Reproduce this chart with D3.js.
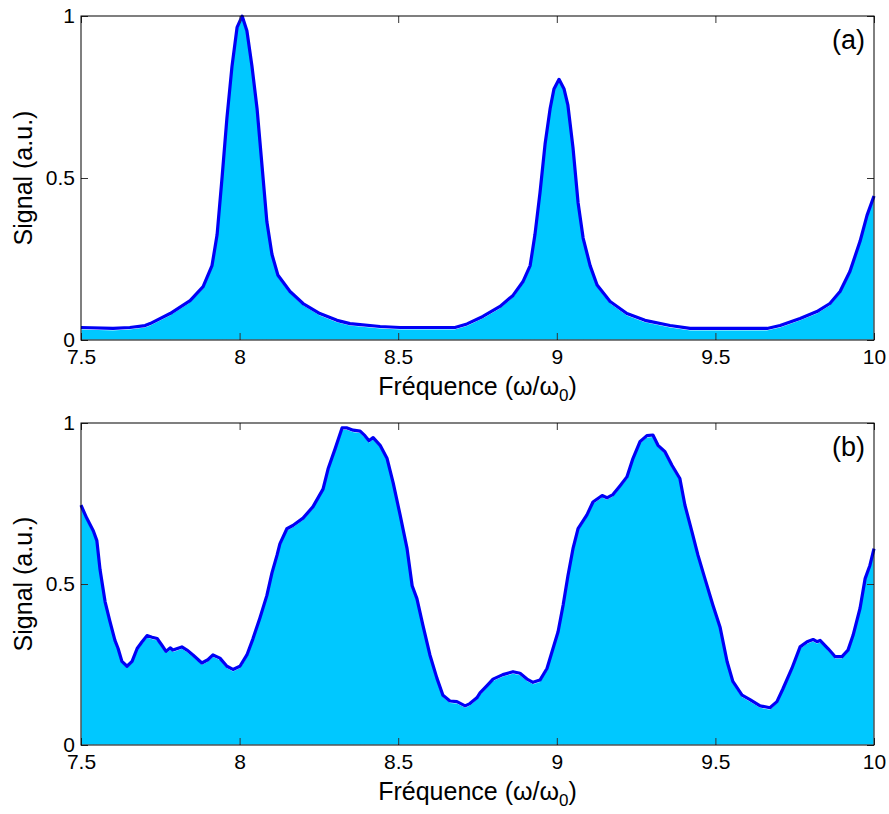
<!DOCTYPE html>
<html>
<head>
<meta charset="utf-8">
<script src="https://cdn.jsdelivr.net/npm/d3@7"></script>
<style>
  body { margin: 0; background: #fff; }
  text { font-family: "Liberation Sans", Arial, sans-serif; fill: #000; }
</style>
</head>
<body>
<svg width="889" height="814"></svg>
<script>
// panel (a) : sharp resonances
const freqA = [7.5, 7.601, 7.654, 7.702, 7.718, 7.781, 7.844, 7.885, 7.913, 7.929, 7.945, 7.96, 7.976, 7.992,
  8.008, 8.023, 8.039, 8.055, 8.071, 8.086, 8.102, 8.121, 8.159, 8.2, 8.253, 8.307, 8.348, 8.443, 8.506,
  8.679, 8.717, 8.767, 8.821, 8.862, 8.893, 8.916, 8.931, 8.947, 8.963, 8.979, 8.991, 9.007, 9.023, 9.035,
  9.051, 9.067, 9.083, 9.105, 9.127, 9.168, 9.221, 9.278, 9.357, 9.42, 9.663, 9.704, 9.767, 9.82, 9.861,
  9.893, 9.924, 9.956, 9.978, 10];
const signalA = [0.034, 0.031, 0.034, 0.04, 0.046, 0.077, 0.117, 0.16, 0.225, 0.32, 0.5, 0.68, 0.84, 0.96,
  0.995, 0.95, 0.84, 0.71, 0.53, 0.36, 0.26, 0.195, 0.145, 0.108, 0.077, 0.056, 0.046, 0.037, 0.034,
  0.034, 0.045, 0.068, 0.099, 0.133, 0.175, 0.225, 0.32, 0.45, 0.6, 0.71, 0.77, 0.8, 0.77, 0.72,
  0.59, 0.42, 0.31, 0.225, 0.165, 0.114, 0.077, 0.056, 0.04, 0.031, 0.031, 0.04, 0.062, 0.083, 0.108,
  0.145, 0.207, 0.3, 0.38, 0.44];

// panel (b) : broadened, noisy
const freqB = [7.5, 7.518, 7.539, 7.55, 7.56, 7.576, 7.591, 7.607, 7.617, 7.629, 7.645, 7.661, 7.677, 7.692,
  7.708, 7.724, 7.74, 7.755, 7.768, 7.781, 7.79, 7.818, 7.834, 7.853, 7.881, 7.9, 7.916, 7.938, 7.96,
  7.979, 8.001, 8.023, 8.042, 8.064, 8.086, 8.102, 8.118, 8.127, 8.149, 8.168, 8.2, 8.231, 8.263, 8.279,
  8.301, 8.323, 8.339, 8.358, 8.38, 8.395, 8.408, 8.421, 8.443, 8.465, 8.484, 8.506, 8.528, 8.544, 8.559,
  8.578, 8.6, 8.622, 8.641, 8.663, 8.685, 8.711, 8.726, 8.748, 8.758, 8.78, 8.799, 8.83, 8.862, 8.884,
  8.906, 8.925, 8.947, 8.969, 8.988, 9.004, 9.02, 9.035, 9.051, 9.067, 9.095, 9.114, 9.143, 9.158, 9.177,
  9.199, 9.221, 9.24, 9.262, 9.284, 9.303, 9.319, 9.341, 9.363, 9.388, 9.404, 9.426, 9.445, 9.467, 9.492,
  9.515, 9.537, 9.555, 9.584, 9.609, 9.641, 9.672, 9.694, 9.713, 9.741, 9.767, 9.789, 9.808, 9.82, 9.83,
  9.855, 9.877, 9.899, 9.918, 9.934, 9.956, 9.972, 9.987, 10];
const signalB = [0.74, 0.70, 0.66, 0.63, 0.54, 0.44, 0.38, 0.32, 0.295, 0.255, 0.24, 0.255, 0.295, 0.315,
  0.335, 0.33, 0.326, 0.305, 0.286, 0.297, 0.29, 0.30, 0.29, 0.275, 0.25, 0.26, 0.275, 0.265, 0.24,
  0.23, 0.24, 0.275, 0.325, 0.39, 0.46, 0.53, 0.585, 0.62, 0.667, 0.677, 0.70, 0.735, 0.79, 0.853,
  0.915, 0.98, 0.98, 0.973, 0.97, 0.956, 0.94, 0.95, 0.926, 0.885, 0.81, 0.71, 0.605, 0.49, 0.45,
  0.367, 0.275, 0.203, 0.15, 0.132, 0.13, 0.117, 0.124, 0.142, 0.157, 0.18, 0.20, 0.214, 0.223, 0.218,
  0.20, 0.19, 0.197, 0.233, 0.295, 0.347, 0.43, 0.52, 0.605, 0.667, 0.71, 0.75, 0.77, 0.763, 0.773,
  0.80, 0.828, 0.885, 0.937, 0.956, 0.958, 0.926, 0.906, 0.864, 0.823, 0.74, 0.658, 0.585, 0.512, 0.43,
  0.36, 0.254, 0.193, 0.15, 0.136, 0.117, 0.111, 0.13, 0.17, 0.233, 0.30, 0.316, 0.323, 0.316, 0.32,
  0.295, 0.27, 0.27, 0.29, 0.336, 0.42, 0.512, 0.553, 0.605];

const xTicks = [7.5, 8, 8.5, 9, 9.5, 10];
const yTicks = [0, 0.5, 1];

const svg = d3.select('svg');
const left = 81, right = 874;
const fmt = d3.format('~g');

const x = d3.scaleLinear().domain([7.5, 10]).range([left, right]);

function drawPanel(freq, sig, top, bottom, tag) {
    const y = d3.scaleLinear().domain([0, 1]).range([bottom, top]);
    const data = freq.map((f, i) => ({f: f, s: sig[i]}));
    const g = svg.append('g');

    g.append('path')
        .datum(data)
        .attr('fill', '#00c8ff')
        .attr('stroke', '#fff')
        .attr('stroke-width', 1)
        .attr('d', d3.area().x(d => x(d.f)).y0(bottom).y1(d => y(d.s)));

    g.append('path')
        .datum(data)
        .attr('fill', 'none')
        .attr('stroke', '#0000f5')
        .attr('stroke-width', 3.2)
        .attr('stroke-linejoin', 'round')
        .attr('transform', 'translate(0,-1.5)')
        .attr('d', d3.line().x(d => x(d.f)).y(d => y(d.s)));

    // ticks inward on all four sides, matlab style
    g.append('g').attr('transform', `translate(0,${bottom})`)
        .call(d3.axisBottom(x).tickValues(xTicks).tickSize(-7).tickSizeOuter(0).tickPadding(9).tickFormat(fmt));
    g.append('g').attr('transform', `translate(0,${top})`)
        .call(d3.axisTop(x).tickValues(xTicks).tickSize(-7).tickSizeOuter(0).tickFormat(''));
    g.append('g').attr('transform', `translate(${left},0)`)
        .call(d3.axisLeft(y).tickValues(yTicks).tickSize(-7).tickSizeOuter(0).tickPadding(6).tickFormat(fmt));
    g.append('g').attr('transform', `translate(${right},0)`)
        .call(d3.axisRight(y).tickValues(yTicks).tickSize(-7).tickSizeOuter(0).tickFormat(''));

    g.selectAll('.domain').remove();
    g.selectAll('.tick line').attr('stroke', '#333');
    g.selectAll('.tick text').style('font-size', '21px').style('font-family', '"Liberation Sans", Arial, sans-serif');

    g.append('rect')
        .attr('x', left).attr('y', top)
        .attr('width', right - left).attr('height', bottom - top)
        .attr('fill', 'none').attr('stroke', '#000').attr('stroke-width', 1);

    const xl = g.append('text')
        .attr('x', (left + right) / 2)
        .attr('y', bottom + 55)
        .attr('text-anchor', 'middle')
        .style('font-size', '25px');
    xl.append('tspan').text('Fréquence (ω/ω');
    xl.append('tspan').attr('dy', 6).style('font-size', '17px').text('0');
    xl.append('tspan').attr('dy', -6).text(')');

    g.append('text')
        .attr('transform', `translate(32,${(top + bottom) / 2}) rotate(-90)`)
        .attr('text-anchor', 'middle')
        .style('font-size', '25px')
        .text('Signal (a.u.)');

    g.append('text')
        .attr('x', 865)
        .attr('y', top + 33)
        .attr('text-anchor', 'end')
        .style('font-size', '27px')
        .text(tag);
}

drawPanel(freqA, signalA, 16, 340, '(a)');
drawPanel(freqB, signalB, 423, 745, '(b)');
</script>
</body>
</html>
